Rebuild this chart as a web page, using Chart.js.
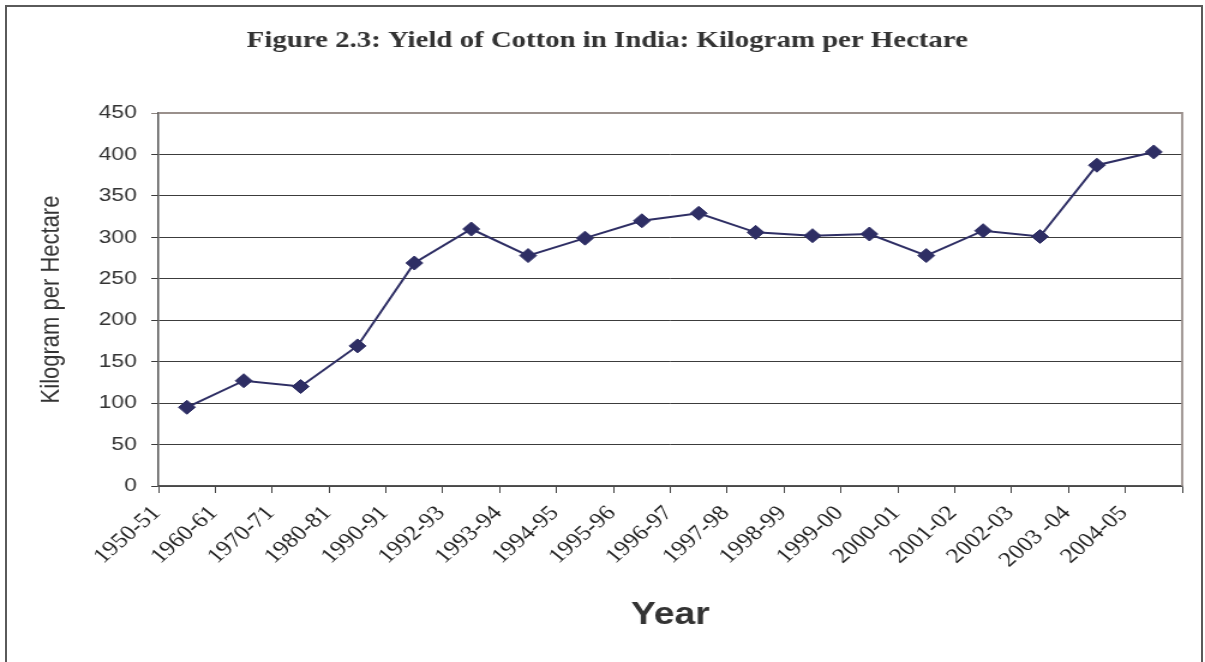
<!DOCTYPE html>
<html>
<head>
<meta charset="utf-8">
<title>Yield of Cotton in India</title>
<script src="https://cdn.jsdelivr.net/npm/chart.js@4.4.1/dist/chart.umd.min.js"></script>
<style>
  html, body { margin: 0; padding: 0; background: #fff; overflow: hidden; }
  #frame {
    position: absolute; left: 5px; top: 5px; width: 1198px; height: 700px;
    border: 2px solid #5a5a5a; box-sizing: border-box;
  }
  #c {
    position: absolute; left: 0; top: 0;
    width: 1205px !important; height: 662px !important;
  }
</style>
</head>
<body>
<div id="frame"></div>
<canvas id="c" width="1004" height="662"></canvas>
<script>
// Crop years and cotton yield (kg per hectare)
const years = [
  '1950-51', '1960-61', '1970-71', '1980-81', '1990-91', '1992-93',
  '1993-94', '1994-95', '1995-96', '1996-97', '1997-98', '1998-99',
  '1999-00', '2000-01', '2001-02', '2002-03', '2003 -04', '2004-05'
];
const yieldKgPerHa = [
  95, 127, 120, 169, 269, 310,
  278, 299, 320, 329, 306, 302,
  304, 278, 308, 301, 387, 403
];
const yAxisMin = 0;
const yAxisMax = 450;
const yAxisStep = 50;

const chartTitle = 'Figure 2.3: Yield of Cotton in India: Kilogram per Hectare';
const ink = '#2e2e64';

// Right-hand and top edge of the plot area
const plotFrame = {
  id: 'plotFrame',
  beforeDatasetsDraw(chart) {
    const { ctx, chartArea: a } = chart;
    ctx.save();
    ctx.strokeStyle = '#9a908c';
    ctx.lineWidth = 1.8;
    ctx.beginPath();
    ctx.moveTo(a.left, a.top);
    ctx.lineTo(a.right, a.top);
    ctx.lineTo(a.right, a.bottom);
    ctx.stroke();
    ctx.restore();
  }
};

// Heading, centred over the whole figure
const heading = {
  id: 'heading',
  afterDraw(chart) {
    const { ctx } = chart;
    ctx.save();
    ctx.fillStyle = '#333';
    ctx.font = 'bold 24px "Liberation Serif", "Times New Roman", serif';
    ctx.textAlign = 'center';
    ctx.textBaseline = 'middle';
    ctx.fillText(chartTitle, 506, 41);
    ctx.restore();
  }
};

new Chart(document.getElementById('c'), {
  type: 'line',
  data: {
    labels: years,
    datasets: [{
      data: yieldKgPerHa,
      borderColor: ink,
      backgroundColor: ink,
      borderWidth: 2,
      pointStyle: 'rectRot',
      pointRadius: 7,
      pointHoverRadius: 7,
      pointBorderWidth: 1,
      tension: 0,
      fill: false
    }]
  },
  options: {
    responsive: false,
    animation: false,
    devicePixelRatio: 1,
    events: [],
    layout: { padding: { left: 0, right: 19, top: 113, bottom: 0 } },
    plugins: {
      legend: { display: false },
      tooltip: { enabled: false },
      title: { display: false }
    },
    scales: {
      x: {
        type: 'category',
        offset: true,
        grid: { offset: true, drawOnChartArea: false, drawTicks: true, tickLength: 7, color: '#444', lineWidth: 1 },
        border: { display: true, color: '#555', width: 1.5 },
        ticks: {
          autoSkip: false,
          minRotation: 46,
          maxRotation: 46,
          labelOffset: -25,
          padding: 8,
          color: '#222',
          font: { family: '"Liberation Serif", "Times New Roman", serif', size: 21 }
        },
        title: {
          display: true,
          text: 'Year',
          color: '#333',
          font: { family: '"Liberation Sans", Arial, sans-serif', size: 31, weight: 'bold' },
          padding: { top: 0, bottom: 28 }
        },
        afterFit(scale) { scale.height = 176; }
      },
      y: {
        min: yAxisMin,
        max: yAxisMax,
        ticks: {
          stepSize: yAxisStep,
          padding: 12,
          color: '#333',
          font: { family: '"Liberation Sans", Arial, sans-serif', size: 19 }
        },
        grid: {
          color: (c) => (c.tick && c.tick.value === yAxisMax ? '#8d8581' : '#3c3c3c'),
          lineWidth: 1,
          tickLength: 6,
          drawTicks: true
        },
        border: { display: true, color: '#555', width: 1.5 },
        title: {
          display: true,
          text: 'Kilogram per Hectare',
          color: '#333',
          font: { family: '"Liberation Sans", Arial, sans-serif', size: 22 },
          padding: { top: 30, bottom: 0 }
        },
        afterFit(scale) { scale.width = 132; }
      }
    }
  },
  plugins: [plotFrame, heading]
});
</script>
</body>
</html>
